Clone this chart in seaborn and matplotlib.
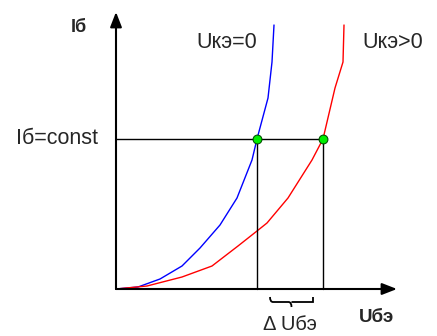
import numpy as np
import pandas as pd
import matplotlib
matplotlib.use("Agg")
import matplotlib.pyplot as plt
from matplotlib.path import Path
from matplotlib.patches import PathPatch
import seaborn as sns

# ---- data (arbitrary units) ----
u_blue = [0.00, 0.22, 0.44, 0.66, 0.84, 1.04, 1.21, 1.36, 1.41, 1.52, 1.56, 1.58]
i_blue = [0.00, 0.02, 0.10, 0.23, 0.41, 0.64, 0.91, 1.29, 1.50, 1.91, 2.27, 2.64]
u_red = [0.00, 0.31, 0.66, 0.96, 1.22, 1.41, 1.51, 1.72, 1.96, 2.07, 2.19, 2.27, 2.28]
i_red = [0.00, 0.03, 0.12, 0.23, 0.43, 0.58, 0.66, 0.91, 1.29, 1.50, 2.01, 2.27, 2.64]
i_const = 1.50
u_points = [1.41, 2.07]
labels = ["Uкэ=0", "Uкэ>0"]

sns.set_style("white")
plt.rcParams['font.family'] = ['Liberation Sans', 'DejaVu Sans']

fig = plt.figure(figsize=(4.37, 3.36), dpi=100)
ax = fig.add_axes([0, 0, 1, 1])
ax.set_xlim(-1.16, 3.21)
ax.set_ylim(-0.47, 2.89)
ax.axis("off")

df_b = pd.DataFrame({"u": u_blue, "i": i_blue})
df_r = pd.DataFrame({"u": u_red, "i": i_red})
sns.lineplot(data=df_b, x="u", y="i", sort=False, color="#0000ff", lw=1.0, ax=ax)
sns.lineplot(data=df_r, x="u", y="i", sort=False, color="#ff0000", lw=1.0, ax=ax)

# crosshair lines
ax.plot([0, u_points[1]], [i_const, i_const], color="black", lw=1.0, zorder=3)
for u in u_points:
    ax.plot([u, u], [0, i_const], color="black", lw=1.0, zorder=3)

# axes arrows
ax.annotate("", xy=(0, 2.77), xytext=(0, 0),
            arrowprops=dict(arrowstyle="-|>,head_length=0.9,head_width=0.35", color="black", lw=1.5, shrinkA=0, shrinkB=0))
ax.annotate("", xy=(2.81, 0), xytext=(0, 0),
            arrowprops=dict(arrowstyle="-|>,head_length=0.9,head_width=0.35", color="black", lw=1.5, shrinkA=0, shrinkB=0))

# green points
pts = pd.DataFrame({"u": u_points, "i": [i_const, i_const]})
sns.scatterplot(data=pts, x="u", y="i", color="#00ee00", edgecolor="#005500", s=40, linewidth=0.8, zorder=5, ax=ax)

# brace
x0, x1 = 1.54, 1.97
xm = (x0 + x1) / 2
yt, yb = -0.08, -0.18
ym = (yt + yb) / 2
verts = [(x0, yt), (x0, ym), (x0 + 0.03, ym), (xm - 0.03, ym),
         (xm, ym), (xm, yb),
         (xm, ym), (xm + 0.03, ym),
         (x1 - 0.03, ym), (x1, ym), (x1, yt)]
codes = [Path.MOVETO, Path.CURVE3, Path.CURVE3, Path.LINETO,
         Path.CURVE3, Path.CURVE3,
         Path.MOVETO, Path.LINETO,
         Path.CURVE3, Path.CURVE3, Path.LINETO]
ax.add_patch(PathPatch(Path(verts, codes), fill=False, color="black", lw=1.3))

# texts
ax.text(-0.37, 2.62, "Iб", fontsize=13, fontweight="bold", ha="center", va="center")
ax.text(1.11, 2.46, labels[0], fontsize=15.5, ha="center", va="center")
ax.text(2.77, 2.46, labels[1], fontsize=15.5, ha="center", va="center")
ax.text(-0.59, 1.50, "Iб=const", fontsize=15.5, ha="center", va="center")
ax.text(1.74, -0.36, "Δ Uбэ", fontsize=14.5, ha="center", va="center")
ax.text(2.60, -0.28, "Uбэ", fontsize=13.5, fontweight="bold", ha="center", va="center")

fig.savefig("out.png", dpi=100)
